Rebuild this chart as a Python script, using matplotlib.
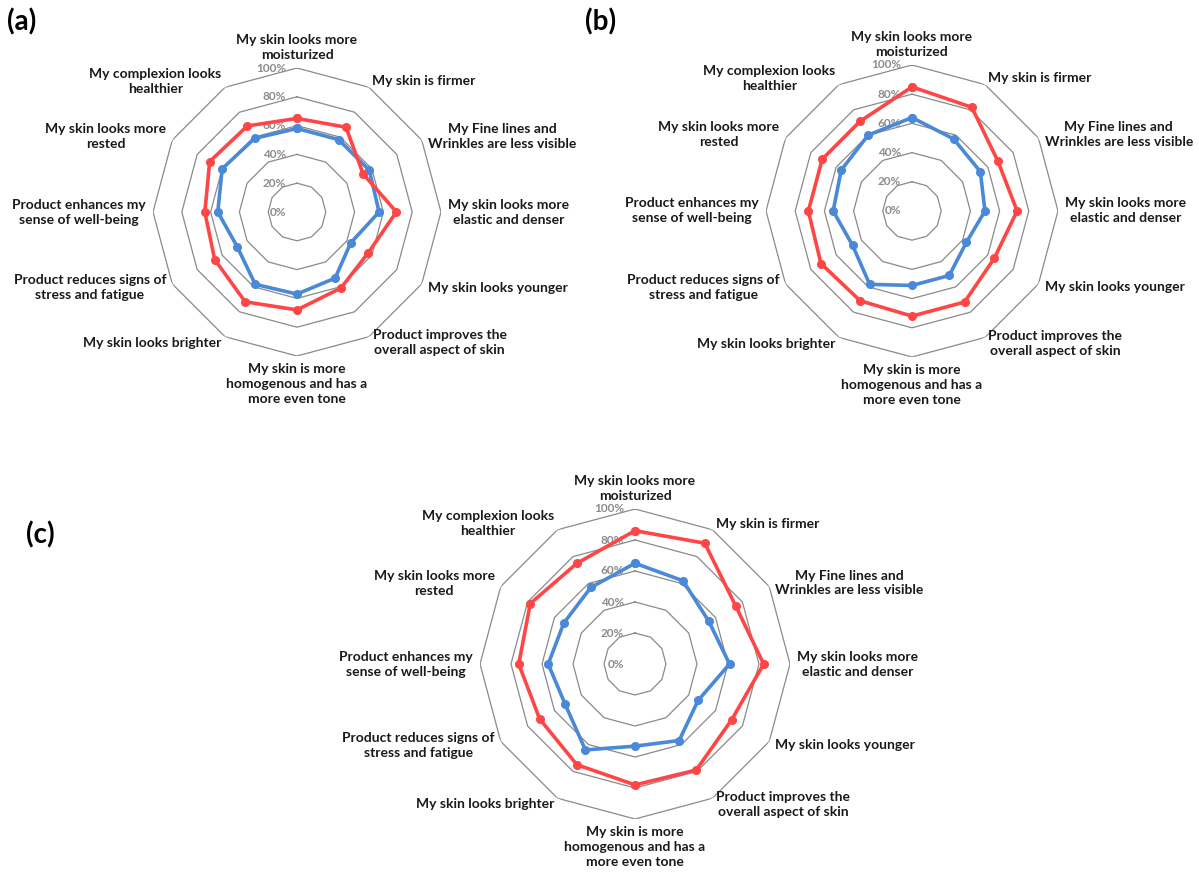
import numpy as np
import matplotlib.pyplot as plt

plt.rcParams['font.family'] = ['Lato', 'DejaVu Sans']

# statements rated by the panel, clockwise from the top
items = [
    "My skin looks more\nmoisturized",
    "My skin is firmer",
    "My Fine lines and\nWrinkles are less visible",
    "My skin looks more\nelastic and denser",
    "My skin looks younger",
    "Product improves the\noverall aspect of skin",
    "My skin is more\nhomogenous and has a\nmore even tone",
    "My skin looks brighter",
    "Product reduces signs of\nstress and fatigue",
    "Product enhances my\nsense of well-being",
    "My skin looks more\nrested",
    "My complexion looks\nhealthier",
]

# % of agreement
a_red = [65, 68, 53, 69, 57, 61, 68, 72, 66, 64, 70, 69]
a_blue = [58, 58, 58, 57, 43, 53, 57, 58, 48, 55, 60, 59]
b_red = [85, 82, 68, 72, 65, 72, 72, 71, 72, 71, 71, 71]
b_blue = [64, 57, 54, 50, 43, 51, 51, 58, 47, 54, 56, 60]
c_red = [86, 90, 75, 83, 72, 79, 78, 75, 71, 75, 78, 75]
c_blue = [65, 62, 55, 61, 47, 57, 53, 64, 52, 56, 53, 57]

ring_levels = [0, 20, 40, 60, 80, 100]

RED = '#ff4646'
BLUE = '#4a88d8'
W, H = 1199, 880


def radar(fig, cx, cy, R, red, blue):
    ax = fig.add_axes([(cx - R) / W, (H - cy - R) / H, 2 * R / W, 2 * R / H],
                      projection='polar')
    ax.set_theta_zero_location('N')
    ax.set_theta_direction(-1)
    ax.set_ylim(0, 100)
    ax.grid(False)
    ax.spines['polar'].set_visible(False)
    ax.set_xticks([])
    ax.set_yticks([])
    ax.patch.set_alpha(0)

    n = len(items)
    theta = np.linspace(0, 2 * np.pi, n, endpoint=False)
    closed = np.append(theta, theta[0])

    for lv in ring_levels[1:]:
        ax.plot(closed, [lv] * (n + 1), color='#8a8a8a', lw=0.9, zorder=1)
    for lv in ring_levels:
        ax.annotate(f'{lv}%', xy=(0, lv), xytext=(-11, 0),
                    textcoords='offset pixels', ha='right', va='center',
                    fontsize=8.5, fontweight='bold', color='#8c8c8c', zorder=2)

    for vals, col in [(blue, BLUE), (red, RED)]:
        v = np.append(vals, vals[0])
        ax.plot(closed, v, color=col, lw=2.6, marker='o', ms=5.5,
                zorder=3, clip_on=False)

    for t, lab in zip(theta, items):
        s, c = np.sin(t), np.cos(t)
        if s > 0.1:
            ha = 'left'
        elif s < -0.1:
            ha = 'right'
        else:
            ha = 'center'
        if c > 0.95:
            va = 'bottom'
        elif c < -0.95:
            va = 'top'
        else:
            va = 'center'
        ax.annotate(lab, xy=(t, 100), xytext=(7 * s, 7 * c),
                    textcoords='offset pixels', ha=ha, va=va,
                    multialignment='center', fontsize=10,
                    fontweight='bold', color='#1a1a1a', linespacing=1.3,
                    annotation_clip=False)
    return ax


fig = plt.figure(figsize=(W / 100, H / 100), dpi=100)

radar(fig, 297, 212, 144, a_red, a_blue)
radar(fig, 912, 211, 146, b_red, b_blue)
radar(fig, 635, 664, 155, c_red, c_blue)

for tag, x, y in [('(a)', 7, 22), ('(b)', 585, 22), ('(c)', 26, 535)]:
    fig.text(x / W, 1 - y / H, tag, fontsize=20, fontweight='bold',
             va='center', ha='left')

fig.savefig('out.png', dpi=100)
